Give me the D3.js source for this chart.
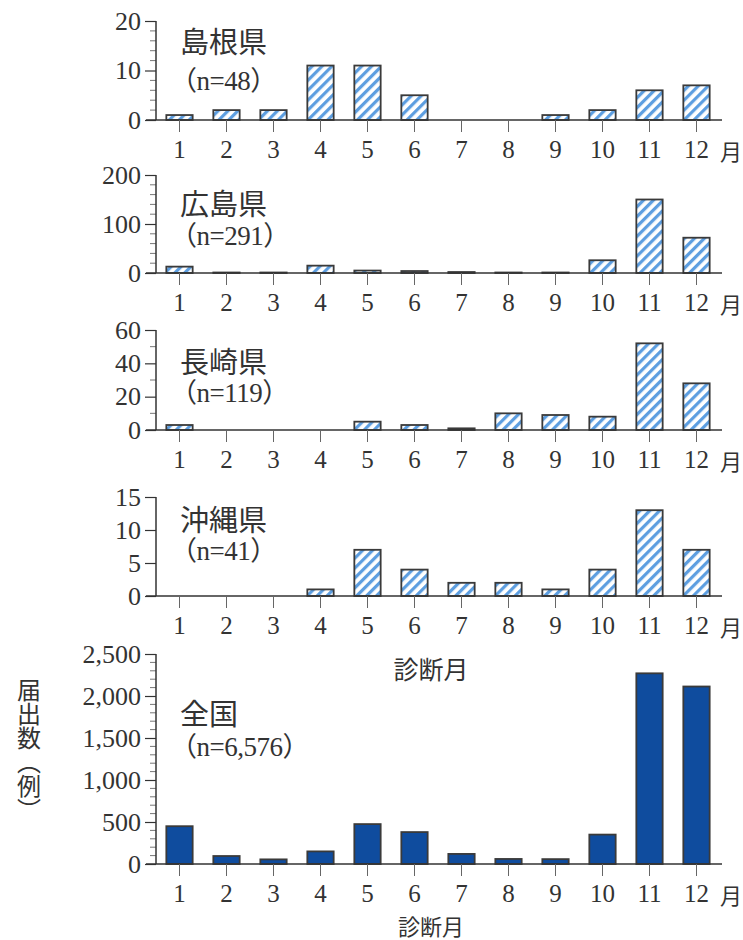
<!DOCTYPE html>
<html>
<head>
<meta charset="utf-8">
<script src="https://cdn.jsdelivr.net/npm/d3@7"></script>
<style>
  body { margin: 0; background: #fff; }
  svg { display: block; }
</style>
</head>
<body>
<div id="chart"></div>
<script>
// Monthly notifications by month of diagnosis
const months = ["1", "2", "3", "4", "5", "6", "7", "8", "9", "10", "11", "12"];
const shimane   = [1, 2, 2, 11, 11, 5, 0, 0, 1, 2, 6, 7];
const hiroshima = [13, 1, 1, 15, 5, 4, 2, 1, 1, 26, 150, 72];
const nagasaki  = [3, 0, 0, 0, 5, 3, 1, 10, 9, 8, 52, 28];
const okinawa   = [0, 0, 0, 1, 7, 4, 2, 2, 1, 4, 13, 7];
const zenkoku   = [450, 95, 55, 150, 475, 380, 120, 60, 58, 350, 2270, 2113];
const regionNames = ["島根県", "広島県", "長崎県", "沖縄県", "全国"];
const nLabels = ["（n=48）", "（n=291）", "（n=119）", "（n=41）", "（n=6,576）"];
const yMaxes = [20, 200, 60, 15, 2500];
const majorSteps = [10, 100, 20, 5, 500];
const minorSteps = [2, 20, 10, 0, 100];

const width = 743, height = 940;
const axisX = 156;
const serif = "'Liberation Serif', 'DejaVu Serif', serif";
const cjk = "'Noto Sans CJK JP', sans-serif";
const ink = "#333";

// layout per panel: top of y range, baseline, title offsets
const layout = [
  { top: 21, base: 120, t1: 40, t2: 81 },
  { top: 175, base: 273, t1: 202, t2: 236 },
  { top: 330, base: 430, t1: 360, t2: 393 },
  { top: 497, base: 596, t1: 518, t2: 551 },
  { top: 654, base: 864, t1: 712, t2: 747 }
];
const seriesList = [shimane, hiroshima, nagasaki, okinawa, zenkoku];

const svg = d3.select("#chart").append("svg")
  .attr("width", width)
  .attr("height", height);

// Hatch pattern for prefecture bars
const defs = svg.append("defs");
const pat = defs.append("pattern")
  .attr("id", "hatch")
  .attr("patternUnits", "userSpaceOnUse")
  .attr("width", 7)
  .attr("height", 7)
  .attr("patternTransform", "rotate(45)");
pat.append("rect").attr("width", 7).attr("height", 7).attr("fill", "#fff");
pat.append("rect").attr("width", 3.2).attr("height", 7).attr("fill", "#5d9ee0");

const x = d3.scaleBand()
  .domain(months)
  .range([axisX, axisX + 47 * 12])
  .paddingInner(0.44)
  .paddingOuter(0.22);

seriesList.forEach((values, p) => {
  const L = layout[p];
  const y = d3.scaleLinear().domain([0, yMaxes[p]]).range([L.base, L.top]);
  const g = svg.append("g");

  // minor ticks
  if (minorSteps[p] > 0) {
    const minors = d3.range(0, yMaxes[p] + 0.001, minorSteps[p])
      .filter(v => v % majorSteps[p] !== 0);
    g.selectAll(".minor").data(minors).enter().append("line")
      .attr("x1", axisX - 6).attr("x2", axisX)
      .attr("y1", d => y(d)).attr("y2", d => y(d))
      .attr("stroke", "#777").attr("stroke-width", 1);
  }

  // y axis
  const yAxis = d3.axisLeft(y)
    .tickValues(d3.range(0, yMaxes[p] + 0.001, majorSteps[p]))
    .tickFormat(d3.format(","))
    .tickSize(11)
    .tickPadding(4);
  const ya = g.append("g")
    .attr("transform", `translate(${axisX},0)`)
    .call(yAxis);
  ya.select(".domain").attr("stroke", ink).attr("stroke-width", 1.5)
    .attr("d", `M0,${L.base}V${L.top}`);
  ya.selectAll(".tick line").attr("stroke", ink).attr("stroke-width", 1.2);
  ya.selectAll(".tick text")
    .attr("font-family", serif).attr("font-size", 26).attr("fill", ink);

  // bars
  g.selectAll(".bar").data(values).enter().append("rect")
    .attr("x", (d, i) => x(months[i]))
    .attr("y", d => y(d))
    .attr("width", x.bandwidth())
    .attr("height", d => L.base - y(d))
    .attr("fill", p === 4 ? "#0f4c9e" : "url(#hatch)")
    .attr("stroke", d => d > 0 ? "#3a3a3a" : "none")
    .attr("stroke-width", 1.8);

  // x axis
  const xAxis = d3.axisBottom(x).tickSize(12).tickPadding(8).tickSizeOuter(0);
  const xa = g.append("g")
    .attr("transform", `translate(0,${L.base})`)
    .call(xAxis);
  xa.select(".domain").attr("stroke", ink).attr("stroke-width", 1.5)
    .attr("d", `M${axisX - 10},0H722`);
  xa.selectAll(".tick line").attr("stroke", "#666").attr("stroke-width", 1);
  xa.selectAll(".tick text")
    .attr("font-family", serif).attr("font-size", 25).attr("fill", ink);

  g.append("text")
    .attr("x", 731).attr("y", L.base + 30)
    .attr("text-anchor", "middle").attr("dominant-baseline", "central")
    .attr("font-family", cjk).attr("font-size", 22).attr("fill", ink)
    .text("月");

  // titles
  g.append("text")
    .attr("x", 180).attr("y", L.t1)
    .attr("dominant-baseline", "central")
    .attr("font-family", cjk).attr("font-size", 29).attr("fill", ink)
    .text(regionNames[p]);
  g.append("text")
    .attr("x", 170).attr("y", L.t2)
    .attr("dominant-baseline", "central")
    .attr("font-family", serif + ", " + cjk).attr("font-size", 27).attr("fill", ink)
    .attr("letter-spacing", -0.5)
    .text(nLabels[p]);
});

// axis titles
svg.append("text")
  .attr("x", 431).attr("y", 668)
  .attr("text-anchor", "middle").attr("dominant-baseline", "central")
  .attr("font-family", cjk).attr("font-size", 25).attr("fill", ink)
  .text("診断月");
svg.append("text")
  .attr("x", 431).attr("y", 925)
  .attr("text-anchor", "middle").attr("dominant-baseline", "central")
  .attr("font-family", cjk).attr("font-size", 22).attr("fill", ink)
  .text("診断月");
svg.append("text")
  .attr("x", 29).attr("y", 678)
  .style("writing-mode", "vertical-rl")
  .attr("font-family", cjk).attr("font-size", 24).attr("fill", ink)
  .text("届出数（例）");
</script>
</body>
</html>
